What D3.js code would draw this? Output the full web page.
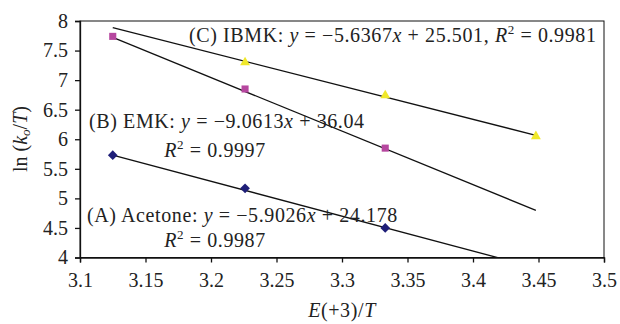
<!DOCTYPE html>
<html>
<head>
<meta charset="utf-8">
<script src="https://cdn.jsdelivr.net/npm/d3@7"></script>
<style>
  body { margin: 0; background: #fff; }
  text { font-family: "Liberation Serif", "DejaVu Serif", serif; fill: #222; }
</style>
</head>
<body>
<svg id="chart" width="620" height="324"></svg>
<script>
// data
const xTicks = [3.1, 3.15, 3.2, 3.25, 3.3, 3.35, 3.4, 3.45, 3.5];
const yTicks = [4, 4.5, 5, 5.5, 6, 6.5, 7, 7.5, 8];

const acetoneX = [3.125, 3.226, 3.333];
const acetoneY = [5.73, 5.17, 4.50];
const emkX = [3.125, 3.226, 3.333];
const emkY = [7.74, 6.85, 5.85];
const ibmkX = [3.226, 3.333, 3.448];
const ibmkY = [7.30, 6.74, 6.05];

// trendline: slope, intercept, x range
const fitSlope = [-5.9026, -9.0613, -5.6367];
const fitIntercept = [24.178, 36.04, 25.501];
const fitRange = [[3.125, 3.448], [3.125, 3.448], [3.125, 3.448]];

const series = [
  { name: "Acetone", xs: acetoneX, ys: acetoneY, color: "#1e1e78", shape: d3.symbolDiamond2, size: 60 },
  { name: "EMK", xs: emkX, ys: emkY, color: "#b6479f", shape: d3.symbolSquare2, size: 64 },
  { name: "IBMK", xs: ibmkX, ys: ibmkY, color: "#f0e82a", shape: d3.symbolTriangle2, size: 70 },
];

const svg = d3.select("#chart");
const m = { left: 80, right: 604, top: 21, bottom: 257.5 };
const fs = 20;
const serif = "'Liberation Serif', 'DejaVu Serif', serif";

const x = d3.scaleLinear().domain([3.1, 3.5]).range([m.left, m.right]);
const y = d3.scaleLinear().domain([4, 8]).range([m.bottom, m.top]);

svg.append("defs").append("clipPath").attr("id", "plot")
  .append("rect").attr("x", m.left).attr("y", m.top)
  .attr("width", m.right - m.left).attr("height", m.bottom - m.top);

// frame
svg.append("rect")
  .attr("x", m.left).attr("y", m.top)
  .attr("width", m.right - m.left).attr("height", m.bottom - m.top)
  .attr("fill", "none").attr("stroke", "#111").attr("stroke-width", 1);

// axes
const xAxis = svg.append("g")
  .attr("transform", `translate(0,${m.bottom})`)
  .call(d3.axisBottom(x).tickValues(xTicks).tickSize(5).tickPadding(10).tickFormat(d3.format("")));
const yAxis = svg.append("g")
  .attr("transform", `translate(${m.left},0)`)
  .call(d3.axisLeft(y).tickValues(yTicks).tickSize(5).tickPadding(7).tickFormat(d3.format("")));
[xAxis, yAxis].forEach(g => {
  g.attr("font-family", null).attr("font-size", null);
  g.select(".domain").attr("stroke", "#111").attr("stroke-width", 1.3);
  g.selectAll(".tick line").attr("stroke", "#111").attr("stroke-width", 1.3);
  g.selectAll(".tick text")
    .style("font-family", serif).style("font-size", fs + "px").attr("fill", "#222");
});

// trendlines
const lines = svg.append("g").attr("clip-path", "url(#plot)");
fitSlope.forEach((s, i) => {
  const pts = fitRange[i].map(v => [v, s * v + fitIntercept[i]]);
  lines.append("path")
    .attr("d", d3.line().x(d => x(d[0])).y(d => y(d[1]))(pts))
    .attr("stroke", "#111").attr("stroke-width", 1.3).attr("fill", "none");
});

// markers
series.forEach(s => {
  svg.append("g").selectAll("path")
    .data(s.xs.map((v, i) => [v, s.ys[i]]))
    .join("path")
    .attr("transform", d => `translate(${x(d[0])},${y(d[1])})`)
    .attr("d", d3.symbol(s.shape, s.size))
    .attr("fill", s.color);
});

// annotations
function eq(g, px, py, parts, anchor) {
  const t = g.append("text").attr("x", px).attr("y", py).attr("font-size", fs)
    .attr("letter-spacing", 0.6)
    .attr("text-anchor", anchor || "start");
  parts.forEach(p => {
    const ts = t.append("tspan").text(p[0]);
    if (p[1] === "i") ts.attr("font-style", "italic");
    if (p[1] === "sup") ts.attr("font-size", 13).attr("dy", -8);
    if (p[1] === "after") ts.attr("dy", 8);
  });
  return t;
}
const ann = svg.append("g");
eq(ann, 189, 42, [["(C) IBMK: "], ["y", "i"], [" = \u22125.6367"], ["x", "i"], [" + 25.501, "], ["R", "i"], ["2", "sup"], [" = 0.9981", "after"]]);
eq(ann, 89, 128, [["(B) EMK: "], ["y", "i"], [" = \u22129.0613"], ["x", "i"], [" + 36.04"]]);
eq(ann, 215, 157, [["R", "i"], ["2", "sup"], [" = 0.9997", "after"]], "middle");
eq(ann, 87, 222, [["(A) Acetone: "], ["y", "i"], [" = \u22125.9026"], ["x", "i"], [" + 24.178"]]);
eq(ann, 215, 247, [["R", "i"], ["2", "sup"], [" = 0.9987", "after"]], "middle");

// axis titles
eq(svg, 342, 317, [["E", "i"], ["(+3)/"], ["T", "i"]], "middle");
const yl = svg.append("text").attr("transform", "translate(27,139) rotate(-90)")
  .attr("text-anchor", "middle").attr("font-size", fs);
yl.append("tspan").text("ln (");
yl.append("tspan").text("k").attr("font-style", "italic");
yl.append("tspan").text("o").attr("font-style", "italic").attr("font-size", 13).attr("dy", 3);
yl.append("tspan").text("/").attr("dy", -3);
yl.append("tspan").text("T").attr("font-style", "italic");
yl.append("tspan").text(")");
</script>
</body>
</html>
